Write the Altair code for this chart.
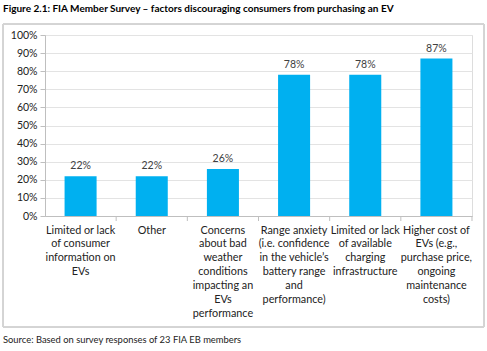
import altair as alt
import pandas as pd

categories = [
    "Limited or lack|of consumer|information on|EVs",
    "Other",
    "Concerns|about bad|weather|conditions|impacting an|EVs|performance",
    "Range anxiety|(i.e. confidence|in the vehicle\u2019s|battery range|and|performance)",
    "Limited or lack|of available|charging|infrastructure",
    "Higher cost of|EVs (e.g.,|purchase price,|ongoing|maintenance|costs)",
]
values = [0.22, 0.22, 0.26, 0.78, 0.78, 0.87]
y_ticks = [0, 0.1, 0.2, 0.3, 0.4, 0.5, 0.6, 0.7, 0.8, 0.9, 1.0]
title_text = "Figure 2.1: FIA Member Survey \u2013 factors discouraging consumers from purchasing an EV"
source_text = "Source: Based on survey responses of 23 FIA EB members"

FONT = "Lato"
W, H = 427, 181
LINE_H = 13.9

df = pd.DataFrame({"cat": categories, "val": values})

rows = []
for c in categories:
    for i, part in enumerate(c.split("|")):
        rows.append({"cat": c, "line": part, "idx": i})
lines_df = pd.DataFrame(rows)
max_lines = int(lines_df["idx"].max()) + 1

xscale = alt.Scale(paddingInner=0, paddingOuter=0, domain=categories)
yscale = alt.Scale(domain=[0, 1])

x_axis = alt.Axis(labels=False, ticks=False, grid=False, domainColor="#bfbfbf")
y_axis = alt.Axis(values=y_ticks, format=".0%", labelFont=FONT, labelFontSize=10.5,
                  labelColor="#222222", gridColor="#e3e3e3", domainColor="#bfbfbf",
                  labelOverlap=False, labelFlush=False, tickCount=11,
                  tickColor="#bfbfbf", tickSize=5, labelPadding=3)

X = alt.X("cat:N", sort=categories, scale=xscale, title=None, axis=x_axis)
Y = alt.Y("val:Q", scale=yscale, title=None, axis=y_axis)

base = alt.Chart(df)

bars = base.mark_bar(color="#00B0F0", width=alt.RelativeBandSize(0.45)).encode(x=X, y=Y)

labels = base.mark_text(font=FONT, fontSize=10.5, color="#404040", dy=-10).encode(
    x=X, y=Y, text=alt.Text("val:Q", format=".0%"),
)

line_layers = []
for i in range(max_lines):
    line_layers.append(
        alt.Chart(lines_df).transform_filter(alt.datum.idx == i).mark_text(
            font=FONT, fontSize=10.8, color="#222222", align="center", baseline="middle",
            dy=i * LINE_H,
        ).encode(x=X, y=alt.value(H + 14.5), text="line:N")
    )

ticks = base.mark_rule(color="#bfbfbf").encode(
    x=alt.X("cat:N", sort=categories, scale=xscale, bandPosition=1, title=None, axis=x_axis),
    y=alt.value(H),
    y2=alt.value(H + 5),
)

frame = base.mark_rect(fill=None, stroke="#d4d4d4", strokeWidth=1, clip=False).encode(
    x=alt.value(-42), x2=alt.value(439), y=alt.value(-11), y2=alt.value(292)
)

title_df = pd.DataFrame({"t": [title_text]})
title = alt.Chart(title_df).mark_text(font=FONT, fontSize=10, fontWeight="bold", color="#000000",
                                      align="left", baseline="middle").encode(
    x=alt.value(-42), y=alt.value(-26), text="t:N"
)

source_df = pd.DataFrame({"t": [source_text]})
source = alt.Chart(source_df).mark_text(font=FONT, fontSize=9.4, color="#222222",
                                        align="left", baseline="middle").encode(
    x=alt.value(-42), y=alt.value(305), text="t:N"
)

chart = alt.layer(frame, bars, labels, *line_layers, ticks, title, source).properties(
    width=W, height=H,
    autosize=alt.AutoSizeParams(type="none"),
    padding={"left": 45, "top": 35, "right": 15, "bottom": 135},
).configure_view(stroke=None).configure(background="white")

chart.save("out.html", embed_options={"renderer": "svg", "actions": False})
